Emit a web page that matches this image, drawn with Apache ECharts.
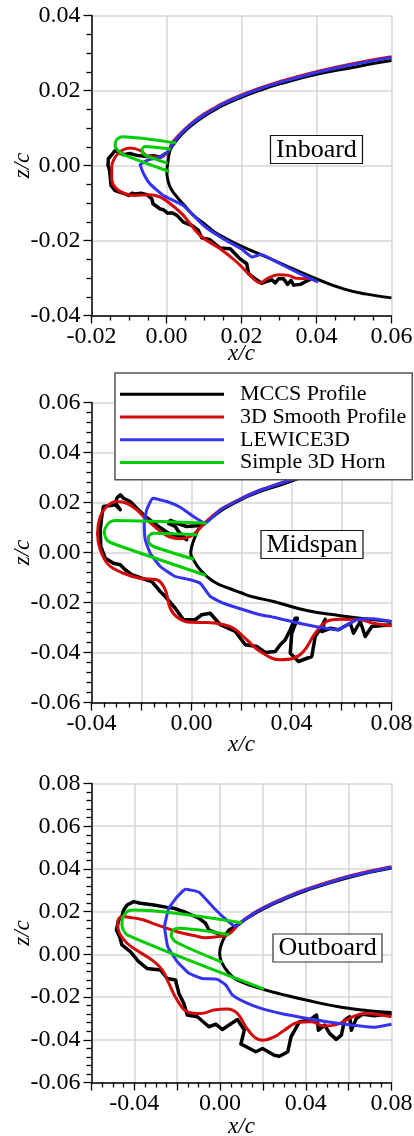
<!DOCTYPE html>
<html><head><meta charset="utf-8">
<style>html,body{margin:0;padding:0;background:#fff}#c{width:414px;height:1136px}</style>
<script src="https://cdn.jsdelivr.net/npm/echarts@6/dist/echarts.min.js"></script>
</head><body><div id="c"></div>
<script>
const seriesNames = ['MCCS Profile','3D Smooth Profile','LEWICE3D','Simple 3D Horn'];
const panelNames = ['Inboard','Midspan','Outboard'];
const xTicksShown = [[-0.02,0,0.02,0.04,0.06],[-0.04,0,0.04,0.08],[-0.04,0,0.04,0.08]];

// Inboard
const inAirfoil = [[.06,.028],[.055,.0272],[.05,.0262],[.04,.0243],[.03,.0217],[.025,.0201],[.02,.0182],[.015,.016],[.0125,.0146],[.01,.0131],[.0072,.0111],[.005,.0092],[.0036,.0078],[.002,.0058],[.0012,.0046],[.0008,.0036],[.0003,.0004],[.0001,-.0018],[.0004,-.004],[.0012,-.0062],[.0028,-.0084],[.005,-.0109],[.0072,-.0133],[.0099,-.0154],[.0125,-.0175],[.0161,-.0196],[.0199,-.0215],[.025,-.0237],[.03,-.0259],[.035,-.0281],[.0399,-.0302],[.0472,-.0329],[.0534,-.0343],[.06,-.0353]];
const inIce = [[.0008,.0036],[-.0004,.0031],[-.0017,.0022],[-.0035,.0026],[-.0052,.0024],[-.0079,.0027],[-.0098,.0032],[-.0115,.0029],[-.0137,.004],[-.0141,.0044],[-.0144,.0031],[-.0155,.0018],[-.0156,0],[-.0152,-.0012],[-.015,-.0031],[-.0148,-.0053],[-.0137,-.0067],[-.0115,-.0074],[-.0101,-.008],[-.0092,-.0074],[-.0084,-.0076],[-.0068,-.0074],[-.0052,-.0078],[-.0039,-.0089],[-.0036,-.0102],[-.0017,-.0116],[-.0008,-.0118],[.0003,-.0127],[.0015,-.0126],[.0028,-.0133],[.0045,-.0151],[.0068,-.016],[.0085,-.0173],[.0094,-.0193],[.0116,-.0198],[.0143,-.022],[.017,-.0222],[.0196,-.0249],[.0214,-.0262],[.0219,-.0289],[.0236,-.0302],[.0254,-.0314],[.0268,-.0309],[.0281,-.0305],[.029,-.0313],[.0299,-.0302],[.0312,-.0302],[.0323,-.0317],[.0332,-.0306],[.0339,-.0319],[.0357,-.0317],[.0374,-.0308],[.0392,-.03]];
const inSmooth = [[.06,.029],[.05,.0272],[.04,.025],[.03,.0223],[.025,.0207],[.02,.0188],[.015,.0166],[.0125,.0152],[.01,.0137],[.0072,.0117],[.005,.0098],[.0028,.0076],[.0014,.0058],[.0003,.0036],[-.0017,.0022],[-.0048,.0024],[-.007,.004],[-.0097,.0047],[-.0119,.004],[-.0137,.0022],[-.0146,-.0004],[-.0146,-.0036],[-.0137,-.0058],[-.0115,-.0074],[-.0084,-.008],[-.0048,-.0078],[-.0017,-.0084],[.001,-.0102],[.0045,-.0133],[.009,-.0187],[.0143,-.0222],[.0188,-.0258],[.0223,-.0293],[.025,-.0313],[.0268,-.0302],[.0299,-.0291],[.0325,-.0293],[.0348,-.0301],[.0383,-.0302]];
const inLewice = [[.06,.0288],[.05,.027],[.04,.0248],[.03,.0221],[.025,.0205],[.02,.0186],[.015,.0164],[.0125,.015],[.01,.0135],[.0072,.0115],[.005,.0096],[.0036,.0082],[.002,.0062],[.0012,.005],[.0003,.0036],[-.0017,.0022],[-.0048,.0015],[-.007,.0002],[-.0061,-.0022],[-.0044,-.0049],[-.0008,-.008],[.0045,-.0107],[.0099,-.016],[.0152,-.0196],[.0199,-.0222],[.0228,-.0244],[.0252,-.0237],[.0303,-.0262],[.035,-.0286],[.0404,-.0311]];
const inHornOuter = [[.0026,.006],[-.0119,.0077],[-.0134,.0067],[-.0137,.0053],[-.0131,.0042],[-.0115,.0029],[.0007,-.0016]];
const inHornInner = [[.0012,.0044],[-.0057,.0051],[-.0065,.0043],[-.0063,.0033],[-.0052,.0025],[.0003,.0006]];

// Midspan
const midAirfoil = [[.08,.0405],[.06,.0352],[.05,.0322],[.0355,.027],[.027,.0243],[.02,.0212],[.015,.0186],[.0115,.0165],[.0055,.0118],[.0028,.0093],[.0015,.0064],[.0001,.0024],[-.0003,-.0003],[.0008,-.0029],[.0035,-.0069],[.0088,-.0116],[.0155,-.0145],[.0195,-.016],[.0248,-.0178],[.0328,-.0196],[.0461,-.0232],[.0595,-.0253],[.0675,-.0263],[.08,-.0276]];
const midIce = [[.0055,.0117],[.0021,.0107],[-.0019,.0104],[-.0052,.0115],[-.0085,.0128],[-.0091,.0115],[-.0065,.0104],[-.0052,.0084],[-.0019,.0051],[-.0045,.0064],[-.0092,.0077],[-.0132,.0104],[-.0185,.0144],[-.0219,.0177],[-.0245,.0204],[-.0272,.0217],[-.0285,.0231],[-.0299,.0217],[-.0303,.0197],[-.0285,.0171],[-.0305,.0191],[-.0352,.0184],[-.0359,.0144],[-.0365,.0091],[-.0363,.0024],[-.0345,-.0023],[-.0312,-.0043],[-.0285,-.0049],[-.0265,-.0069],[-.0239,-.0089],[-.0199,-.0103],[-.0159,-.0116],[-.0125,-.0156],[-.0105,-.0176],[-.0065,-.0223],[-.0032,-.0269],[.0015,-.0269],[.0041,-.0249],[.0075,-.0243],[.0115,-.0289],[.0175,-.0316],[.0215,-.0369],[.0261,-.0376],[.0295,-.04],[.0335,-.0396],[.0355,-.0369],[.0375,-.0349],[.0395,-.0309],[.0415,-.0263],[.0424,-.0263],[.0401,-.0323],[.0395,-.0403],[.0428,-.0436],[.0481,-.0416],[.0495,-.0336],[.0521,-.0296],[.0535,-.0267],[.0521,-.0316],[.0555,-.0303],[.0588,-.0309],[.0635,-.0283],[.0648,-.0323],[.0675,-.0276],[.0695,-.0336],[.0721,-.0296],[.08,-.0289]];
const midSmooth = [[.08,.041],[.06,.0358],[.05,.0328],[.0355,.0277],[.027,.0248],[.02,.0217],[.015,.0191],[.0115,.0171],[.0055,.012],[.0021,.0084],[-.0005,.0064],[-.0045,.0055],[-.0092,.0064],[-.0132,.0091],[-.0179,.0131],[-.0219,.0171],[-.0259,.0197],[-.0299,.0204],[-.0339,.0184],[-.0365,.0144],[-.0376,.0077],[-.0365,.0011],[-.0332,-.0049],[-.0272,-.0083],[-.0205,-.0103],[-.0139,-.0109],[-.0105,-.0149],[-.0085,-.0223],[-.0052,-.0263],[-.0005,-.0279],[.0061,-.028],[.0121,-.0287],[.0168,-.0303],[.0221,-.0349],[.0275,-.0396],[.0355,-.0429],[.0408,-.0423],[.0448,-.0396],[.0495,-.0323],[.0541,-.0276],[.0595,-.0267],[.0675,-.0269],[.0728,-.0283],[.08,-.0293]];
const midLewice = [[.08,.0408],[.06,.0356],[.05,.0326],[.0355,.0276],[.027,.0247],[.02,.0216],[.015,.019],[.0115,.017],[.0055,.0117],[.0008,.0144],[-.0045,.0181],[-.0099,.0204],[-.0155,.0217],[-.0179,.0171],[-.0189,.0117],[-.0185,.0051],[-.0165,-.0003],[-.0125,-.0056],[-.0065,-.0096],[-.0005,-.0109],[.0035,-.0123],[.0075,-.0176],[.0128,-.0203],[.0195,-.0225],[.0275,-.0249],[.0328,-.0259],[.0461,-.0289],[.0584,-.0309],[.0661,-.0269],[.0728,-.0265],[.08,-.0276]];
const midHornOuter = [[.0059,.0117],[-.0305,.0128],[-.0332,.0117],[-.0349,.0084],[-.0339,.0051],[-.0312,.0035],[.0059,-.0092]];
const midHornInner = [[.0024,.0071],[-.0152,.0077],[-.0172,.0064],[-.0172,.0044],[-.0152,.0024],[.0011,-.0027]];

// Outboard
const outAirfoil = [[.08,.0404],[.06,.036],[.04,.0298],[.0284,.0251],[.02,.0212],[.015,.0183],[.0097,.0148],[.0034,.0098],[.0011,.0059],[-.0002,.0005],[.0006,-.0034],[.0042,-.0089],[.0097,-.0128],[.0206,-.0165],[.0284,-.0186],[.04,-.0214],[.0566,-.0248],[.0691,-.0264],[.08,-.0272]];
const outIce = [[.0097,.0148],[.0042,.0114],[.0019,.0083],[-.0013,.0098],[-.0052,.0114],[-.0067,.0145],[-.0098,.0169],[-.0169,.02],[-.0216,.0216],[-.0247,.022],[-.0309,.0231],[-.0372,.0239],[-.0403,.0247],[-.0434,.0231],[-.045,.0208],[-.0458,.0177],[-.0473,.0161],[-.0484,.0114],[-.0469,.0083],[-.0458,.0044],[-.0419,.0013],[-.038,-.0034],[-.0341,-.0066],[-.0278,-.0073],[-.0247,-.0113],[-.0208,-.012],[-.0192,-.0183],[-.0169,-.023],[-.0153,-.0284],[-.0106,-.0292],[-.0052,-.0339],[-.002,-.0327],[.0011,-.0352],[.0042,-.0331],[.0081,-.0305],[.0113,-.0355],[.0097,-.042],[.0167,-.0456],[.0198,-.0441],[.0253,-.0472],[.0277,-.0477],[.0316,-.0456],[.0331,-.0386],[.037,-.0316],[.0417,-.0308],[.045,-.0284],[.0459,-.0355],[.0488,-.0331],[.0511,-.037],[.0542,-.0398],[.0566,-.0378],[.0581,-.0308],[.0605,-.0292],[.0613,-.0355],[.0636,-.03],[.0666,-.028],[.0722,-.0288],[.08,-.0277]];
const outSmooth = [[.08,.041],[.06,.0366],[.04,.0304],[.0284,.0257],[.02,.0218],[.015,.0189],[.0097,.015],[.0034,.0091],[-.0013,.0083],[-.0067,.0078],[-.0122,.0088],[-.02,.0106],[-.0294,.0138],[-.0356,.0161],[-.0419,.0173],[-.0458,.0177],[-.0478,.0145],[-.0469,.0098],[-.0434,.0052],[-.038,.0013],[-.0317,-.0027],[-.027,-.0073],[-.0239,-.0136],[-.02,-.0214],[-.0153,-.0269],[-.0091,-.0277],[-.0028,-.0261],[.0034,-.0256],[.0081,-.0277],[.012,-.0339],[.0159,-.0386],[.0198,-.0402],[.0253,-.0386],[.03,-.0355],[.0363,-.0319],[.0425,-.0316],[.0488,-.0336],[.055,-.0327],[.0613,-.0295],[.0675,-.0277],[.0753,-.0284],[.08,-.0292]];
const outLewice = [[.08,.0408],[.06,.0364],[.04,.0302],[.0284,.0255],[.02,.0216],[.015,.0187],[.0097,.015],[.0073,.013],[.0034,.0158],[-.0028,.0216],[-.0098,.0291],[-.0161,.0305],[-.02,.027],[-.0239,.0216],[-.0259,.013],[-.0244,.0036],[-.02,-.0034],[-.0145,-.0089],[-.0083,-.0113],[-.0013,-.0117],[.0027,-.0144],[.0058,-.0191],[.0113,-.0222],[.0191,-.0253],[.0284,-.0277],[.0409,-.03],[.0566,-.0325],[.0722,-.0341],[.08,-.0327]];
const outHornOuter = [[.0102,.0148],[-.0395,.0208],[-.0427,.0205],[-.0453,.0177],[-.0458,.0138],[-.0434,.0091],[.0206,-.0163]];
const outHornInner = [[.0042,.0092],[-.0192,.0122],[-.0219,.0114],[-.0228,.0091],[-.0208,.0059],[.0011,-.0038]];

const curves = [
  {air:inAirfoil, ice:inIce, smooth:inSmooth, lew:inLewice, ho:inHornOuter, hi:inHornInner},
  {air:midAirfoil, ice:midIce, smooth:midSmooth, lew:midLewice, ho:midHornOuter, hi:midHornInner},
  {air:outAirfoil, ice:outIce, smooth:outSmooth, lew:outLewice, ho:outHornOuter, hi:outHornInner}
];

const FONT = '"Liberation Serif","Times New Roman",serif';
const BLACK='#000000', RED='#d40a0a', BLUE='#3434f0', GREEN='#00cc00', GRIDC='#d6d6d6';

const frames = [
  {left:91.5,top:15.5,width:300,height:300,xMin:-.02,xMax:.06,yMin:-.04,yMax:.04,xMinor:4,yMinor:4,xGap:27},
  {left:91.5,top:402.5,width:300,height:300,xMin:-.04,xMax:.08,yMin:-.06,yMax:.06,xMinor:4,yMinor:5,xGap:31},
  {left:91.5,top:783.5,width:300,height:299,xMin:-.06,xMax:.08,yMin:-.06,yMax:.08,xMinor:4,yMinor:5,xGap:33}
];

const fmtY = v => v.toFixed(2);
function axisCommon(minor){
  return {
    type:'value', interval:.02, nameMoveOverlap:false,
    axisLine:{show:true,onZero:false,lineStyle:{color:'#000',width:1.5}},
    axisTick:{show:true,length:8,inside:false,lineStyle:{color:'#000',width:1.3}},
    minorTick:{show:true,splitNumber:minor,length:5,lineStyle:{color:'#000',width:1.3}},
    splitLine:{show:true,lineStyle:{color:GRIDC,width:1.5}},
    minorSplitLine:{show:false},
    nameTextStyle:{fontFamily:FONT,fontStyle:'italic',fontSize:23,color:'#000'}
  };
}
const grid=[],xAxis=[],yAxis=[],series=[];
frames.forEach((f,i)=>{
  grid.push({left:f.left,top:f.top,width:f.width,height:f.height,containLabel:false,outerBoundsMode:'none'});
  xAxis.push(Object.assign(axisCommon(f.xMinor),{gridIndex:i,min:f.xMin,max:f.xMax,
    name:'x/c',nameLocation:'middle',nameGap:f.xGap,
    axisLabel:{show:true,margin:9,hideOverlap:false,fontFamily:FONT,fontSize:24,color:'#000',
      formatter:v=>xTicksShown[i].some(t=>Math.abs(t-v)<1e-6)?(Math.abs(v)<1e-9?'0.00':v.toFixed(2)):''}}));
  yAxis.push(Object.assign(axisCommon(f.yMinor),{gridIndex:i,min:f.yMin,max:f.yMax,
    name:'z/c',nameLocation:'middle',nameGap:57,nameRotate:90,
    axisLabel:{show:true,margin:11,hideOverlap:false,fontFamily:FONT,fontSize:24,color:'#000',
      formatter:v=>Math.abs(v)<1e-9?'0.00':fmtY(v)}}));
  const c=curves[i];
  const add=(name,data,color,width,smooth)=>series.push({
    name,type:'line',data,xAxisIndex:i,yAxisIndex:i,showSymbol:false,symbol:'none',
    smooth,lineStyle:{color,width,join:'round'},itemStyle:{color},animation:false,silent:true,clip:true});
  add(seriesNames[0],c.air,BLACK,3,.5);
  add(seriesNames[0],c.ice,BLACK,3.5,0);
  add(seriesNames[1],c.smooth,RED,3,.4);
  add(seriesNames[2],c.lew,BLUE,3,.12);
  add(seriesNames[3],c.ho,GREEN,3,.25);
  add(seriesNames[3],c.hi,GREEN,3,.25);
});
const boxes=[{left:270,top:135},{left:260.5,top:530},{left:272.5,top:933.5}];
const title=panelNames.map((t,i)=>({
  text:t,left:boxes[i].left,top:boxes[i].top,
  textStyle:{fontFamily:FONT,fontSize:26,fontWeight:'normal',color:'#000',lineHeight:28},
  padding:[1,6,0,6],backgroundColor:'#fff',borderColor:i===2?'#333':'#111',borderWidth:1.2,z:20
}));
const chart=echarts.init(document.getElementById('c'),null,{renderer:'canvas'});
chart.setOption({
  animation:false,backgroundColor:'#fff',title,grid,xAxis,yAxis,series,
  legend:{
    show:true,orient:'vertical',left:115,top:373,
    data:seriesNames,icon:'rect',itemWidth:104,itemHeight:3,itemGap:0,
    padding:[10,6,6,5],backgroundColor:'#fff',borderColor:'#555',borderWidth:1.5,
    textStyle:{fontFamily:FONT,fontSize:22,color:'#000',padding:[0,0,0,11],lineHeight:22.7,height:22.7},
    selectedMode:false,z:30
  }
});
</script></body></html>
